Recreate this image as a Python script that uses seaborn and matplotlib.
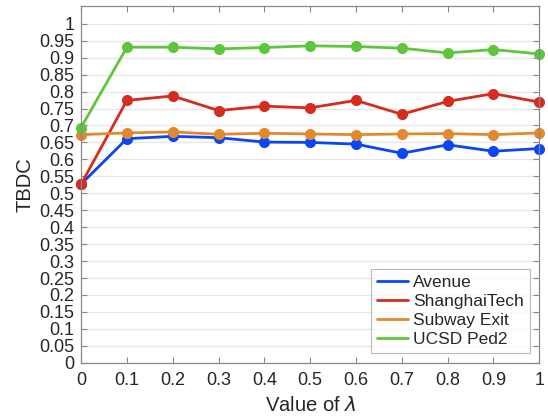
import numpy as np
import pandas as pd
import seaborn as sns
import matplotlib
matplotlib.use("Agg")
import matplotlib.pyplot as plt
from matplotlib.lines import Line2D

lambdas = [0, 0.1, 0.2, 0.3, 0.4, 0.5, 0.6, 0.7, 0.8, 0.9, 1.0]
avenue = [0.527, 0.661, 0.668, 0.664, 0.651, 0.650, 0.645, 0.618, 0.643, 0.624, 0.632]
shanghaitech = [0.527, 0.774, 0.787, 0.744, 0.757, 0.752, 0.774, 0.733, 0.771, 0.794, 0.769]
subway_exit = [0.673, 0.678, 0.681, 0.674, 0.677, 0.675, 0.673, 0.675, 0.676, 0.673, 0.678]
ucsd_ped2 = [0.694, 0.931, 0.931, 0.926, 0.930, 0.935, 0.933, 0.928, 0.914, 0.924, 0.911]

series_names = ["Avenue", "ShanghaiTech", "Subway Exit", "UCSD Ped2"]
series_values = [avenue, shanghaitech, subway_exit, ucsd_ped2]
colors = ["#0a46f5", "#d62b1f", "#e2892e", "#5ec63c"]

x_ticks = [0, 0.1, 0.2, 0.3, 0.4, 0.5, 0.6, 0.7, 0.8, 0.9, 1]
y_ticks = np.round(np.arange(0, 1.0001, 0.05), 2)

df = pd.concat(
    [pd.DataFrame({"lambda": lambdas, "TBDC": v, "dataset": n})
     for n, v in zip(series_names, series_values)],
    ignore_index=True,
)

sns.set_theme(style="white")
plt.rcParams["font.family"] = ["Liberation Sans", "DejaVu Sans"]

fig = plt.figure(figsize=(5.48, 4.16), dpi=100)
ax = fig.add_axes([0.148, 0.128, 0.836, 0.858])

sns.lineplot(
    data=df, x="lambda", y="TBDC", hue="dataset", hue_order=series_names,
    palette=colors, marker="o", markersize=8, markeredgewidth=0,
    linewidth=2, ax=ax, legend=False,
)
for ln in ax.lines:
    ln.set_clip_on(False)

ax.set_xlim(0, 1)
ax.set_ylim(0, 1.053)
ax.set_xticks(x_ticks)
ax.set_xticklabels([f"{t:g}" for t in x_ticks], fontsize=13)
ax.set_yticks(y_ticks)
ax.set_yticklabels([f"{t:g}" for t in y_ticks], fontsize=13)
ax.grid(True, axis="y", color="#e6e6e6", linewidth=0.9)
ax.set_axisbelow(True)

for s in ax.spines.values():
    s.set_color("#888888")
    s.set_linewidth(0.9)
ax.tick_params(direction="in", length=4, width=0.8, color="#888888",
               top=True, right=True, bottom=True, left=True, pad=5,
               labelcolor="#262626")
ax.tick_params(axis="x", pad=7)

ax.set_xlabel("Value of $\\lambda$", fontsize=14.5, color="#262626", labelpad=5)
ax.set_ylabel("TBDC", fontsize=14.5, color="#262626", labelpad=3)

handles = [Line2D([0], [0], color=c, linewidth=2) for c in colors]
leg = ax.legend(handles, series_names, loc="lower right",
                bbox_to_anchor=(0.98, 0.028), fontsize=12.5,
                frameon=True, fancybox=False, handlelength=1.8,
                handletextpad=0.3, borderpad=0.35, labelspacing=0.22,
                borderaxespad=0.0)
leg.get_frame().set_edgecolor("#aaaaaa")
leg.get_frame().set_linewidth(0.8)

fig.savefig("out.png", dpi=100)
